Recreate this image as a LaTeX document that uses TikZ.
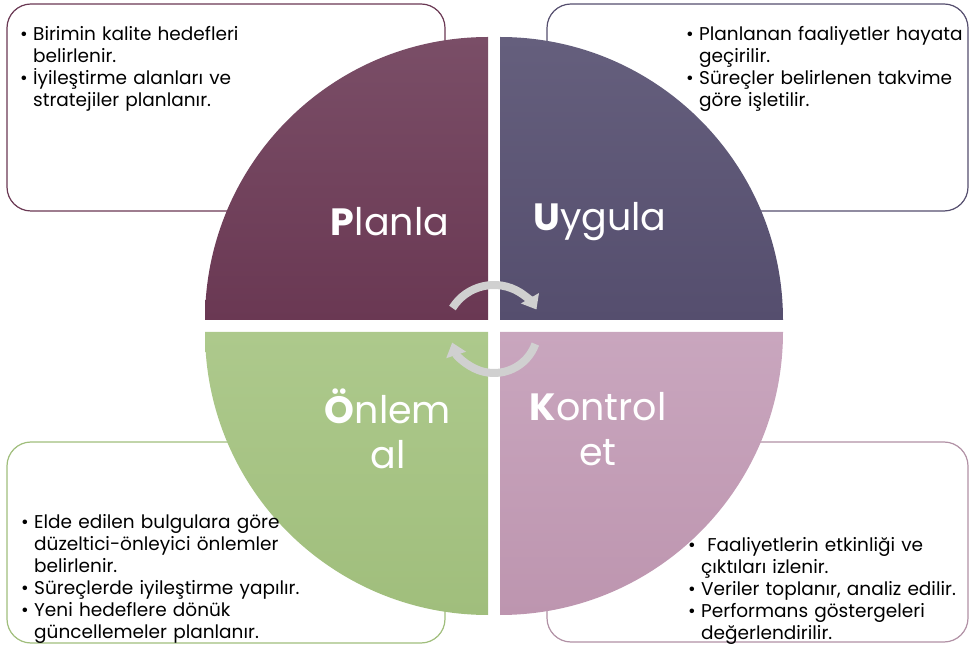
\documentclass[tikz,border=0pt]{standalone}
\usepackage{fontspec}
\setmainfont{Poppins}
\usetikzlibrary{arrows.meta}

\definecolor{planC}{HTML}{6A3853}
\definecolor{planT}{HTML}{7A4E67}
\definecolor{uygC}{HTML}{554E6E}
\definecolor{uygT}{HTML}{655F7D}
\definecolor{onlC}{HTML}{A0BE7C}
\definecolor{onlT}{HTML}{ADC98C}
\definecolor{konC}{HTML}{BD95AF}
\definecolor{konT}{HTML}{C9A6BE}
\definecolor{cycC}{HTML}{D0D0D0}

\newcommand{\itm}[1]{\par\hangindent=13pt\hangafter=1\noindent\makebox[13pt][l]{\textbullet}#1\par}

\tikzset{
  notebox/.style={rounded corners=24pt, line width=1.2pt, fill=white},
  note/.style={anchor=north west, align=left, inner sep=0pt, text width=420pt,
    font=\fontsize{18.5}{22}\selectfont},
  big/.style={text=white, align=center, inner sep=0pt,
    font=\fontsize{38}{45}\selectfont},
  cyc/.style={line width=8pt, draw=cycC, -{Triangle[width=20pt,length=13pt]}}
}

\begin{document}
\begin{tikzpicture}[x=1pt,y=1pt]
\useasboundingbox (0,0) rectangle (970,646);
% note boxes
\draw [notebox, draw=planC] (7,435) rectangle (445,642);
\draw [notebox, draw=uygC] (547,435) rectangle (968,642);
\draw [notebox, draw=onlC] (7,3) rectangle (445,204);
\draw [notebox, draw=konC!80!gray] (547,4) rectangle (968,204);
% quarters
\shade [top color=planT, bottom color=planC] (488,326) -- (205,326) arc[start angle=180, end angle=90, radius=283] -- cycle;
\shade [top color=uygT, bottom color=uygC] (500,326) -- (500,609) arc[start angle=90, end angle=0, radius=283] -- cycle;
\shade [top color=onlT, bottom color=onlC] (488,314) -- (205,314) arc[start angle=180, end angle=270, radius=283] -- cycle;
\shade [top color=konT, bottom color=konC] (500,314) -- (783,314) arc[start angle=0, end angle=-90, radius=283] -- cycle;
% labels
\node [big] (plan) at (390,424) {\textbf{P}lanla};
\node [big] (uyg) at (600,424) {\textbf{U}ygula};
\node [big] (onl) at (388,217) {\textbf{Ö}nlem\\al};
\node [big] (kon) at (598,217) {\textbf{K}ontrol\\et};
% cycle arrows
\draw [cyc] ([shift={(148:49)}]494,312) arc[start angle=148, end angle=30, radius=49];
\draw [cyc] ([shift={(-20:44)}]494,317) arc[start angle=-20, end angle=-162, radius=44];
% notes
\node [note] (tPlan) at (20,628) {\itm{Birimin kalite hedefleri\newline belirlenir.}\itm{İyileştirme alanları ve\newline stratejiler planlanır.}};
\node [note] (tUyg) at (686,628) {\itm{Planlanan faaliyetler hayata\newline geçirilir.}\itm{Süreçler belirlenen takvime\newline göre işletilir.}};
\node [note] (tOnl) at (21,140) {\itm{Elde edilen bulgulara göre\newline düzeltici-önleyici önlemler\newline belirlenir.}\itm{Süreçlerde iyileştirme yapılır.}\itm{Yeni hedeflere dönük\newline güncellemeler planlanır.}};
\node [note] (tKon) at (688,117) {\itm{~Faaliyetlerin etkinliği ve\newline çıktıları izlenir.}\itm{Veriler toplanır, analiz edilir.}\itm{Performans göstergeleri\newline değerlendirilir.}};
\end{tikzpicture}
\end{document}
